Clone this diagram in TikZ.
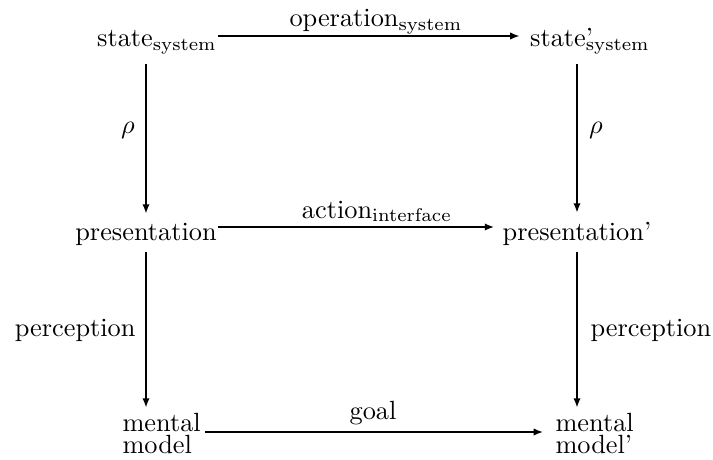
\documentclass[tikz,border=0pt]{standalone}
\usetikzlibrary{arrows.meta}
\begin{document}
\begin{tikzpicture}[x=0.38pt,y=-0.38pt,
  term/.style={inner sep=0pt},
  lbl/.style={inner sep=0pt},
  arr/.style={-{Latex[length=3.6pt,width=2.8pt]}, line width=0.7pt}]
\useasboundingbox (0,0) rectangle (713,459);

% states, presentations and mental models
\node[term,anchor=base] (s)  at (157,47)  {state$_{\mathrm{system}}$};
\node[term,anchor=base] (s2) at (590,47)  {state\rlap{’}$_{\mathrm{system}}$};
\node[term,anchor=base] (p)  at (146,240) {presentation};
\node[term,anchor=base] (p2) at (577,240) {presentation’};
\node[term,anchor=north west,align=left] (m)  at (122,413) {mental\\[-3.8pt]model};
\node[term,anchor=north west,align=left] (m2) at (555,413) {mental\\[-3.8pt]model’};

% horizontal transitions
\draw[arr,shorten <=0.4pt,shorten >=3.8pt] (s.east |- 0,36) -- (s2.west |- 0,36);
\draw[arr,shorten <=0.4pt,shorten >=3pt]   (p.east |- 0,227) -- (p2.west |- 0,227);
\draw[arr,shorten <=1.5pt,shorten >=4.5pt] (m.east |- 0,432) -- (m2.west |- 0,432);

% vertical mappings
\draw[arr,shorten <=3.5pt,shorten >=3.2pt] (p |- s.south) -- (p.north);
\draw[arr,shorten <=3.5pt,shorten >=3.2pt] (p2 |- s2.south) -- (p2.north);
\draw[arr,shorten <=2.6pt,shorten >=2.0pt] (p.south) -- (p |- m.north);
\draw[arr,shorten <=2.6pt,shorten >=2.0pt] (p2.south) -- (p2 |- m.north);

% labels
\node[lbl,anchor=base] (op)  at (376,27)  {operation$_{\mathrm{system}}$};
\node[lbl,anchor=base] (act) at (377,218) {action$_{\mathrm{interface}}$};
\node[lbl,anchor=base] (gl)  at (373,419) {goal};
\node[lbl] (r1) at (128,130) {$\rho$};
\node[lbl] (r2) at (596,130) {$\rho$};
\node[lbl,anchor=east] (pc1) at (136,330) {perception};
\node[lbl,anchor=west] (pc2) at (590,330) {perception};
\end{tikzpicture}
\end{document}
